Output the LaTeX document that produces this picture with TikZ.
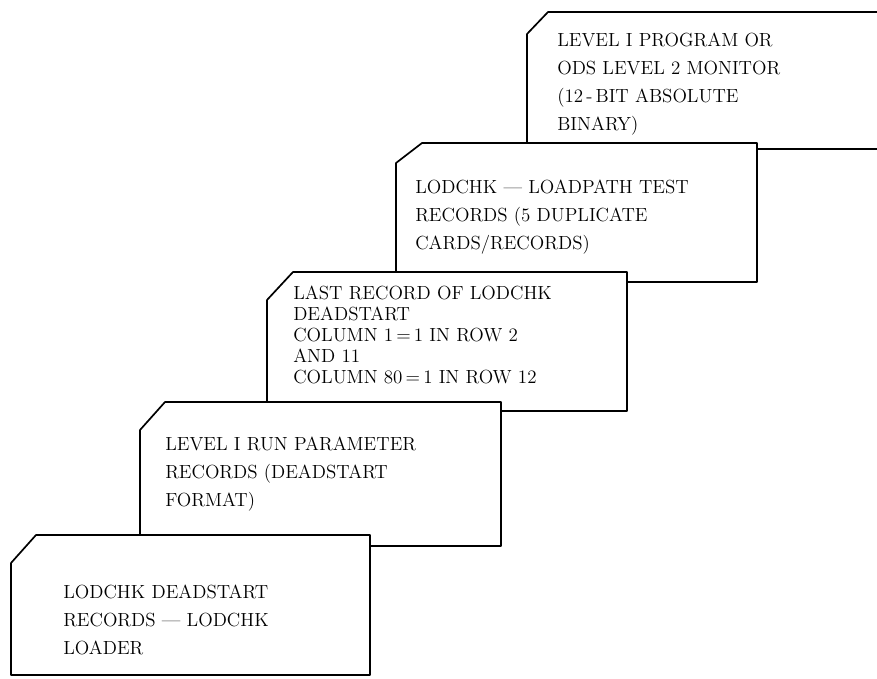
\documentclass[tikz,border=0pt]{standalone}
\begin{document}
\begin{tikzpicture}[
  x=0.025cm, y=-0.025cm,
  card/.style={draw=black, fill=white, line width=1.2pt, line join=round},
  txt/.style={anchor=north west, inner sep=0pt, align=left, font=\fontsize{13.5}{19.9}\selectfont},
  tight/.style={font=\fontsize{13.5}{14.9}\selectfont}
]
\path[use as bounding box] (0,0) rectangle (877,679);
\clip (0,0) rectangle (877,679);

% ===== CARD 1  (top of the deck, runs off the right side) =====
\draw[card] (548,12) -- (905,12) -- (905,149) -- (527,149) -- (527,34) -- cycle;
\node[txt] (prog) at (557,33) {LEVEL I PROGRAM OR\\ODS LEVEL 2 MONITOR\\(12\,-\,BIT ABSOLUTE\\BINARY)};

% ===== CARD 2 =====
\draw[card] (422,143) -- (757,143) -- (757,282) -- (396,282) -- (396,163) -- cycle;
\node[txt] (test) at (415,180) {LODCHK --- LOADPATH TEST\\RECORDS (5 DUPLICATE\\CARDS/RECORDS)};

% ===== CARD 3  (closer line spacing) =====
\draw[card] (293,272) -- (627,272) -- (627,411) -- (267,411) -- (267,300) -- cycle;
\node[txt,tight] (last) at (293,286) {LAST RECORD OF LODCHK\\DEADSTART\\COLUMN 1\,=\,1 IN ROW 2\\AND 11\\COLUMN 80\,=\,1 IN ROW 12};

% ===== CARD 4 =====
\draw[card] (165,402) -- (501,402) -- (501,546) -- (140,546) -- (140,430) -- cycle;
\node[txt] (param) at (165,437) {LEVEL I RUN PARAMETER\\RECORDS (DEADSTART\\FORMAT)};

% ===== CARD 5  (bottom of the deck) =====
\draw[card] (36,535) -- (370,535) -- (370,675) -- (11,675) -- (11,563) -- cycle;
\node[txt] (loader) at (63,585) {LODCHK DEADSTART\\RECORDS --- LODCHK\\LOADER};

\end{tikzpicture}
\end{document}
